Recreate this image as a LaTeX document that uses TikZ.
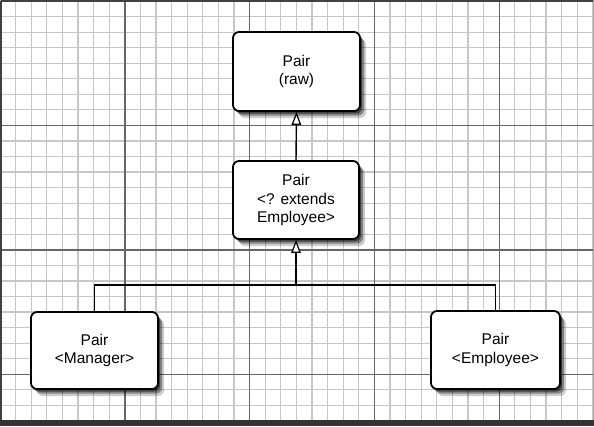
\documentclass[tikz,border=0pt]{standalone}
\usepackage{fontspec}
\setmainfont{Liberation Sans}
\usetikzlibrary{arrows.meta,shadows}
\begin{document}
\begin{tikzpicture}[x=1pt,y=-1pt,
  minorgrid/.style={draw=black!22,line width=1.2pt},
  majorgrid/.style={draw=black!60,line width=1.4pt},
  pairbox/.style={draw=black,line width=1.8pt,fill=white,rounded corners=6pt,
    align=center,font=\fontsize{15.5}{18.7}\selectfont,inner sep=0pt,
    general shadow={fill=black,opacity=0.2,shadow xshift=6pt,shadow yshift=-7pt},
    general shadow={fill=black,opacity=0.35,shadow xshift=4pt,shadow yshift=-4.5pt},
    general shadow={fill=black,opacity=0.5,shadow xshift=2pt,shadow yshift=-2.5pt}},
  conn/.style={draw=black,line width=1.4pt},
  inh/.style={conn,-{Triangle[open,fill=white,length=13pt,width=9.5pt,line width=1.2pt]}}]
\useasboundingbox (0,0) rectangle (594,426);
\fill[white] (0,0) rectangle (594,426);
% grid
\foreach \i in {0,...,38} {\draw[minorgrid] ({\i*15.6},0) -- ({\i*15.6},426);}
\foreach \j in {0,...,27} {\draw[minorgrid] (0,{1+\j*15.55}) -- (594,{1+\j*15.55});}
\foreach \i in {1,...,4} {\draw[majorgrid] ({\i*124.8},0) -- ({\i*124.8},426);}
\foreach \j in {1,...,3} {\draw[majorgrid] (0,{1+\j*124.4}) -- (594,{1+\j*124.4});}
% frame
\draw[black!75,line width=1.5pt] (0.75,0.75) -- (594,0.75);
\draw[black!75,line width=1.5pt] (0.75,0.75) -- (0.75,421);
\fill[black!80] (0,420) rectangle (594,426);
\fill[black!35] (592.5,0) rectangle (594,420);
% nodes
\node[pairbox,minimum width=127pt,minimum height=79pt] (raw) at (296.5,71.5) {Pair\\(raw)};
\node[pairbox,minimum width=126pt,minimum height=78pt] (ext) at (296,200) {Pair\\<? extends\\Employee>};
\node[pairbox,minimum width=127pt,minimum height=77pt] (mgr) at (94.5,350.5) {Pair\\<Manager>};
\node[pairbox,minimum width=129pt,minimum height=78pt] (emp) at (495.5,350) {Pair\\<Employee>};
\coordinate (j) at (296,285);
% connectors
\draw[inh] (ext.north) -- (raw.south);
\draw[inh] (j) -- (ext.south);
\draw[conn] (mgr.north) |- (j) -| (emp.north);
\end{tikzpicture}
\end{document}
